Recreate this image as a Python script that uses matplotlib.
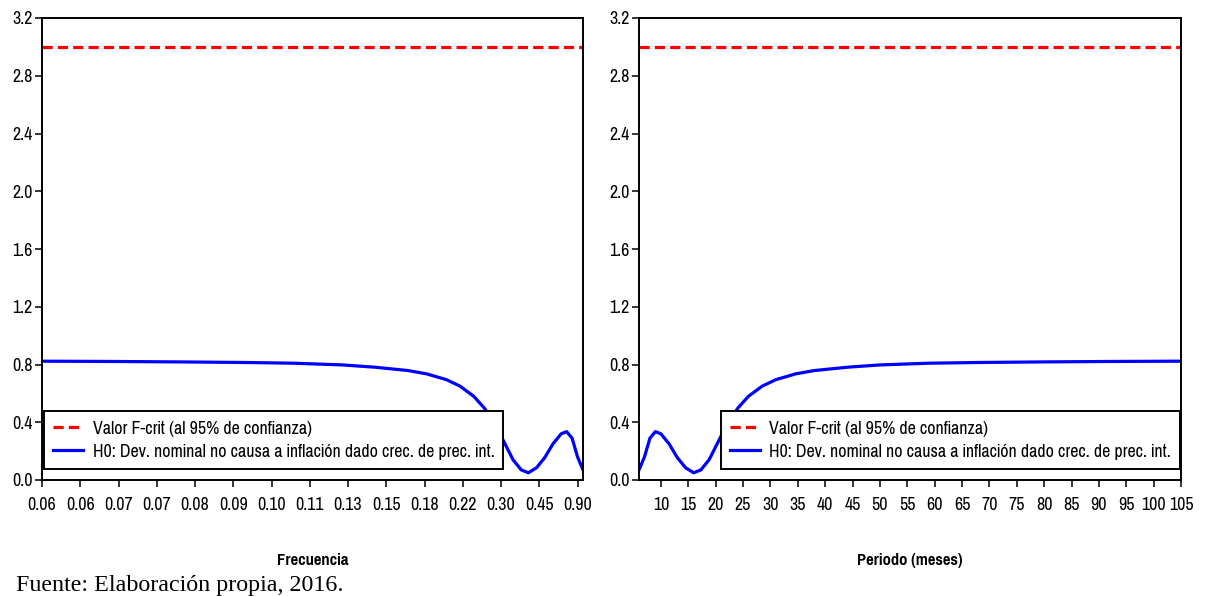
import matplotlib
matplotlib.use("Agg")
import matplotlib.pyplot as plt

plt.rcParams['font.family'] = ['Pragati Narrow', 'DejaVu Sans']

# Datos (periodo en meses, estadístico F)
periodo = [6.0, 7.0, 8.0, 9.0, 10.0, 11.5, 13.0, 14.5, 16.0, 17.3, 18.8,
           20.6, 22.4, 24.1, 26.0, 28.5, 31.0, 34.6, 38.0, 44.0, 50.0,
           59.0, 68.0, 80.0, 92.0, 105.0]
f_stat = [0.07, 0.16, 0.29, 0.335, 0.32, 0.25, 0.155, 0.085, 0.05, 0.07, 0.14,
          0.275, 0.41, 0.50, 0.58, 0.65, 0.695, 0.735, 0.758, 0.781, 0.797,
          0.809, 0.814, 0.818, 0.821, 0.823]
f_crit = 3.0

freq_ticks = [105, 98, 91, 84, 77, 70, 63, 56, 49, 42, 35, 28, 21, 14, 7]
freq_labels = ['0.06', '0.06', '0.07', '0.07', '0.08', '0.09', '0.10', '0.11',
               '0.13', '0.15', '0.18', '0.22', '0.30', '0.45', '0.90']
per_ticks = list(range(10, 106, 5))
per_labels = [str(t) for t in per_ticks]
y_ticks = [0.0, 0.4, 0.8, 1.2, 1.6, 2.0, 2.4, 2.8, 3.2]
y_labels = ['%.1f' % v for v in y_ticks]

lbl_crit = "Valor F-crit (al 95% de confianza)"
lbl_h0 = "H0: Dev. nominal no causa a inflación dado crec. de prec. int."

fig = plt.figure(figsize=(12.08, 5.96), dpi=100)
ax1 = fig.add_axes([42 / 1208, 116 / 596, 541 / 1208, 462 / 596])
ax2 = fig.add_axes([639 / 1208, 116 / 596, 542 / 1208, 462 / 596])

for ax in (ax1, ax2):
    ax.axhline(f_crit, color='#ff0000', lw=2.3, dashes=(3.2, 1.6), label=lbl_crit)
    ax.plot(periodo, f_stat, color='#0000ff', lw=2.3, label=lbl_h0)
    ax.set_ylim(0, 3.2)
    ax.set_yticks(y_ticks)
    ax.set_yticklabels(y_labels)
    for s in ax.spines.values():
        s.set_linewidth(1.4)
    ax.tick_params(direction='out', length=5, width=1.1, labelsize=14)
    ax.tick_params(axis='x', pad=7)
    ax.tick_params(axis='y', pad=2)

ax1.set_xlim(105, 6)
ax1.set_xticks(freq_ticks)
ax1.set_xticklabels(freq_labels)
ax1.set_xlabel("Frecuencia", fontsize=13, fontweight='bold', labelpad=29)
leg1 = ax1.legend(loc='lower left', bbox_to_anchor=(0.004, 0.024), borderaxespad=0,
                  fontsize=14, frameon=True, fancybox=False, handlelength=1.55,
                  handletextpad=0.5, borderpad=0.45, labelspacing=0.35)

ax2.set_xlim(6, 105)
ax2.set_xticks(per_ticks)
ax2.set_xticklabels(per_labels)
ax2.set_xlabel("Periodo (meses)", fontsize=13, fontweight='bold', labelpad=29)
leg2 = ax2.legend(loc='lower right', bbox_to_anchor=(0.998, 0.024), borderaxespad=0,
                  fontsize=14, frameon=True, fancybox=False, handlelength=1.55,
                  handletextpad=0.5, borderpad=0.45, labelspacing=0.35)

for leg in (leg1, leg2):
    fr = leg.get_frame()
    fr.set_edgecolor('black')
    fr.set_linewidth(1.4)
    fr.set_alpha(1)

fig.text(16 / 1208, 1 - 585 / 596, "Fuente: Elaboración propia, 2016.",
         family='Liberation Serif', fontsize=17.3, va='center', ha='left')

fig.savefig("out.png", dpi=100)
